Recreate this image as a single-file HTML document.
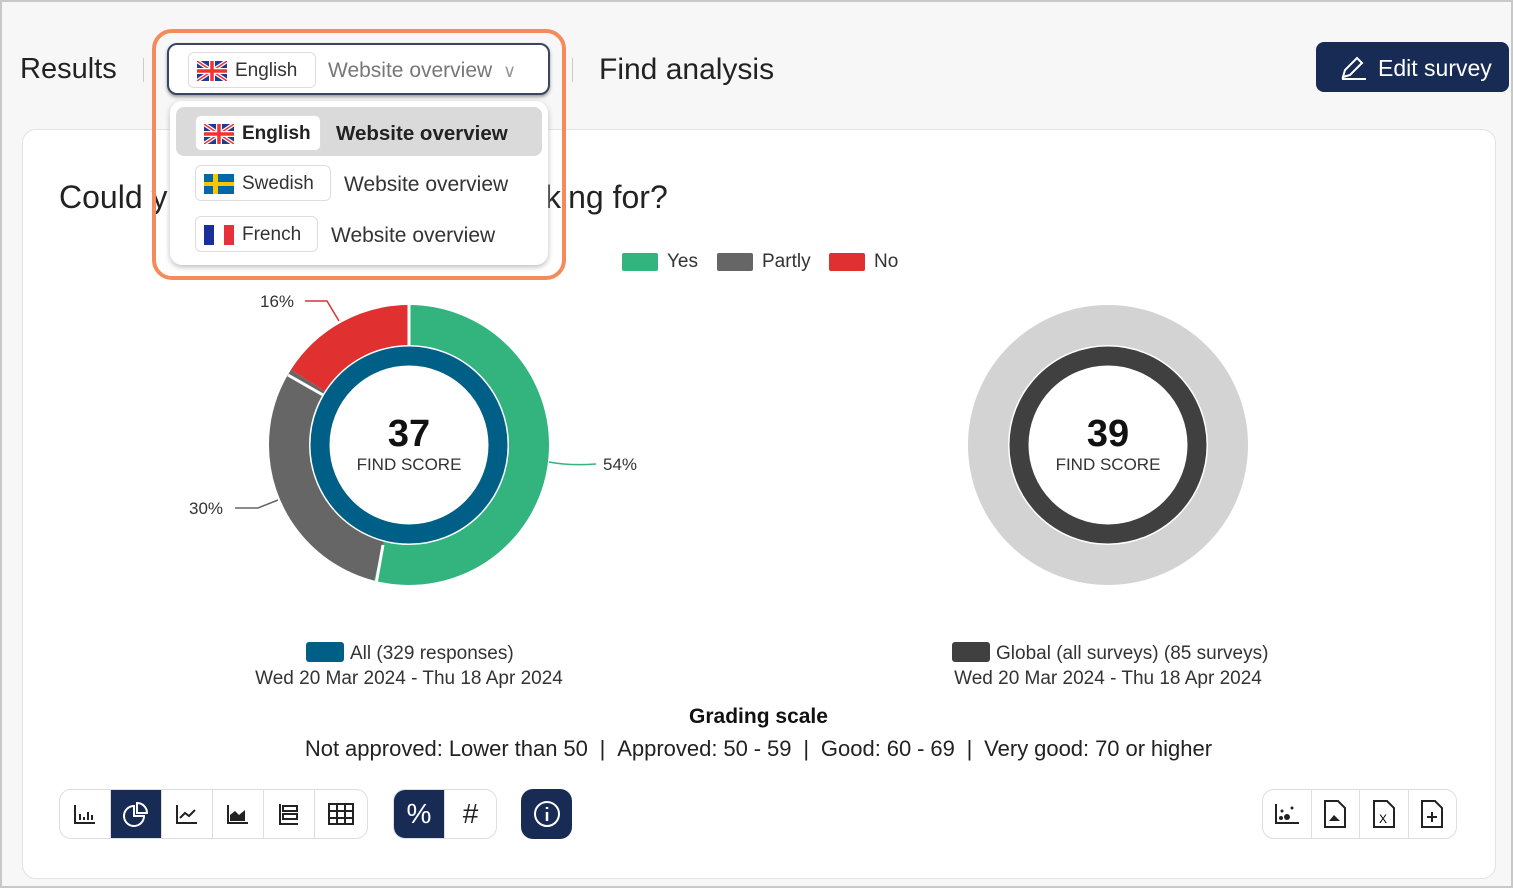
<!DOCTYPE html>
<html><head><meta charset="utf-8"><style>
*{box-sizing:border-box;margin:0;padding:0}
body{width:1513px;height:888px;background:#f7f7f7;font-family:"Liberation Sans",sans-serif;position:relative;overflow:hidden}
.abs{position:absolute}
.card{left:22px;top:129px;width:1474px;height:750px;background:#fff;border:1px solid #e2e2e2;border-radius:14px}
.h{color:#222}
.pill{position:absolute;border:1px solid #ddd;border-radius:6px;background:#fff;height:36px;font-size:19px;color:#333;display:flex;align-items:center;padding-left:8px;gap:8px}
.flag{width:30px;height:20px;display:inline-block}
.btns{position:absolute;border:1px solid #ddd;border-radius:12px;background:#fff;display:flex;height:50px;overflow:hidden}
.btns div{width:51px;border-right:1px solid #ddd;display:flex;align-items:center;justify-content:center;font-size:24px;color:#222}
.btns div:last-child{border-right:none}
.dk{background:#172b54!important;color:#fff!important}
.t{font-size:19px;color:#333;text-align:center}
</style></head><body>
<div class="abs" style="left:0;top:0;width:1513px;height:888px;border:2px solid #c8c8c8"></div>
<div class="abs h" style="left:20px;top:53px;font-size:29px">Results</div>
<div class="abs" style="left:143px;top:58px;width:1px;height:24px;background:#ccc"></div>
<div class="abs" style="left:572px;top:58px;width:1px;height:24px;background:#ccc"></div>
<div class="abs h" style="left:599px;top:53px;font-size:30px">Find analysis</div>
<div class="abs" style="left:1316px;top:42px;width:193px;height:50px;background:#172b54;border-radius:8px;color:#fff;font-size:23px;display:flex;align-items:center;padding-left:62px;padding-top:2px">Edit survey</div>
<svg class="abs" style="left:1340px;top:55px" width="28" height="26"><path d="M3 22 L5 15 L17 3 L22 8 L10 20 Z M2 24 H26" stroke="#fff" stroke-width="2" fill="none"/></svg>
<div class="abs card"></div>
<div class="abs" style="left:59px;top:179px;font-size:32px;color:#222">Could y</div>
<div class="abs" style="left:545px;top:179px;font-size:32px;color:#222">king for?</div>
<div class="abs" style="left:622px;top:253px;width:36px;height:18px;background:#33b47e;border-radius:2px"></div>
<div class="abs" style="left:667px;top:251px;font-size:19px;color:#333">Yes</div>
<div class="abs" style="left:717px;top:253px;width:36px;height:18px;background:#666;border-radius:2px"></div>
<div class="abs" style="left:762px;top:251px;font-size:19px;color:#333">Partly</div>
<div class="abs" style="left:829px;top:253px;width:36px;height:18px;background:#e03030;border-radius:2px"></div>
<div class="abs" style="left:874px;top:251px;font-size:19px;color:#333">No</div>
<svg class="abs" style="left:0;top:0" width="1513" height="888">
<g transform="translate(409,445) rotate(-90)">
<circle r="120" fill="none" stroke="#33b47e" stroke-width="40" stroke-dasharray="407.1 400"/>
<circle r="120" fill="none" stroke="#666" stroke-width="40" stroke-dasharray="0 407.1 226.2 400"/>
<circle r="120" fill="none" stroke="#e03030" stroke-width="40" stroke-dasharray="0 633.3 120.7 100"/>
<circle r="89" fill="none" stroke="#005f87" stroke-width="19"/>
</g>
<g stroke="#fff" stroke-width="3"><line x1="409" y1="305" x2="409" y2="345"/><line x1="376" y1="584" x2="383" y2="545"/><line x1="288" y1="375" x2="323" y2="395"/></g>
<g fill="none" stroke-width="1.5"><path d="M549 462 Q570 466 596 464" stroke="#33b47e"/><path d="M278 500 L258 508 H235" stroke="#666"/><path d="M339 321 L327 301 H305" stroke="#e03030"/></g>
<circle cx="1108" cy="445" r="120" fill="none" stroke="#d3d3d3" stroke-width="40"/>
<circle cx="1108" cy="445" r="89" fill="none" stroke="#404040" stroke-width="19"/>
</svg>
<div class="abs" style="left:260px;top:292px;font-size:17px;color:#333">16%</div>
<div class="abs" style="left:603px;top:455px;font-size:17px;color:#333">54%</div>
<div class="abs" style="left:189px;top:499px;font-size:17px;color:#333">30%</div>
<div class="abs" style="left:329px;top:413px;width:160px;text-align:center;font-size:38px;font-weight:bold;color:#111">37</div>
<div class="abs" style="left:329px;top:455px;width:160px;text-align:center;font-size:17px;color:#333">FIND SCORE</div>
<div class="abs" style="left:1028px;top:413px;width:160px;text-align:center;font-size:38px;font-weight:bold;color:#111">39</div>
<div class="abs" style="left:1028px;top:455px;width:160px;text-align:center;font-size:17px;color:#333">FIND SCORE</div>
<div class="abs" style="left:306px;top:642px;width:38px;height:20px;background:#005f87;border-radius:3px"></div>
<div class="abs t" style="left:350px;top:643px">All (329 responses)</div>
<div class="abs t" style="left:209px;top:668px;width:400px">Wed 20 Mar 2024 - Thu 18 Apr 2024</div>
<div class="abs" style="left:952px;top:642px;width:38px;height:20px;background:#404040;border-radius:3px"></div>
<div class="abs t" style="left:996px;top:643px">Global (all surveys) (85 surveys)</div>
<div class="abs t" style="left:908px;top:668px;width:400px">Wed 20 Mar 2024 - Thu 18 Apr 2024</div>
<div class="abs" style="left:0;top:705px;width:1517px;text-align:center;font-size:21px;font-weight:bold;color:#111">Grading scale</div>
<div class="abs" style="left:0;top:736px;width:1517px;text-align:center;font-size:22px;color:#222;word-spacing:-0.2px">Not approved: Lower than 50 &nbsp;| &nbsp;Approved: 50 - 59 &nbsp;| &nbsp;Good: 60 - 69 &nbsp;| &nbsp;Very good: 70 or higher</div>
<div class="btns" style="left:59px;top:789px;width:309px">
<div><svg width="24" height="22"><path d="M2 2V20H22M7 17V11M11 17V14M15 17V9M19 17V12" stroke="#222" stroke-width="2" fill="none"/></svg></div>
<div class="dk"><svg width="28" height="28"><path d="M12 6A10 10 0 1 0 22 16H12Z" stroke="#fff" stroke-width="2" fill="none"/><path d="M15 3A10 10 0 0 1 25 13H15Z" stroke="#fff" stroke-width="2" fill="none"/></svg></div>
<div><svg width="24" height="22"><path d="M2 2V20H22M5 15L10 10L14 13L20 7" stroke="#222" stroke-width="2" fill="none"/></svg></div>
<div><svg width="24" height="22"><path d="M2 2V20H22" stroke="#222" stroke-width="2" fill="none"/><path d="M4 18V12L9 8L13 12L19 7V18Z" fill="#222"/></svg></div>
<div><svg width="24" height="24"><path d="M3 2V22H21M6 4H20V9H6ZM6 12H20V17H6Z" stroke="#222" stroke-width="2" fill="none"/></svg></div>
<div><svg width="26" height="22"><path d="M1 1H25V21H1ZM1 8H25M1 15H25M9 1V21M17 1V21" stroke="#222" stroke-width="2" fill="none"/></svg></div></div>
<div class="btns" style="left:393px;top:789px;width:104px"><div class="dk" style="font-size:28px">%</div><div style="font-size:28px">#</div></div>
<div class="btns dk" style="left:521px;top:789px;width:51px;border:none"><div class="dk"><svg width="30" height="30"><circle cx="15" cy="15" r="12" stroke="#fff" stroke-width="2" fill="none"/><path d="M15 13V22M15 8V10" stroke="#fff" stroke-width="2.5"/></svg></div></div>
<div class="btns" style="left:1262px;top:789px;width:195px">
<div style="width:49px"><svg width="26" height="24"><path d="M2 2V21H25" stroke="#222" stroke-width="2" fill="none"/><circle cx="7" cy="16" r="2" fill="#222"/><circle cx="13" cy="15" r="3" fill="#222"/><circle cx="8" cy="9" r="1.5" fill="#222"/><circle cx="18" cy="6" r="1.5" fill="#222"/></svg></div>
<div style="width:49px"><svg width="22" height="28"><path d="M1 1H14L21 8V27H1Z" stroke="#222" stroke-width="2" fill="none"/><path d="M5 21L10 15L16 21Z" fill="#222"/></svg></div>
<div style="width:49px"><svg width="22" height="28"><path d="M1 1H14L21 8V27H1Z" stroke="#222" stroke-width="2" fill="none"/><text x="6" y="23" font-size="12" font-family="Liberation Sans">X</text></svg></div>
<div style="width:48px"><svg width="22" height="28"><path d="M1 1H14L21 8V27H1ZM11 12V22M6 17H16" stroke="#222" stroke-width="2" fill="none"/></svg></div></div>
<div class="abs" style="left:152px;top:29px;width:414px;height:251px;border:4px solid #f58b5a;border-radius:20px"></div>
<div class="abs" style="left:167px;top:43px;width:383px;height:52px;border:2px solid #3a4660;border-radius:10px;background:#fff;box-shadow:0 2px 3px #999"></div>
<svg width="0" height="0" style="position:absolute"><defs><symbol id="uk" viewBox="0 0 30 20"><rect width="30" height="20" fill="#233a8f"/><path d="M0 0L30 20M30 0L0 20" stroke="#fff" stroke-width="4"/><path d="M0 0L30 20M30 0L0 20" stroke="#e33" stroke-width="1.5"/><path d="M15 0V20M0 10H30" stroke="#fff" stroke-width="6"/><path d="M15 0V20M0 10H30" stroke="#e33" stroke-width="3.5"/></symbol></defs></svg>
<div class="pill" style="left:188px;top:52px;width:128px;padding-top:2px"><svg class="flag"><use href="#uk"/></svg>English</div>
<div class="abs" style="left:328px;top:59px;font-size:21px;color:#777">Website overview <span style="color:#999;font-size:18px">&nbsp;∨</span></div>
<div class="abs" style="left:170px;top:101px;width:378px;height:164px;background:#fff;border-radius:12px;box-shadow:0 2px 6px #bbb"></div>
<div class="abs" style="left:176px;top:107px;width:366px;height:49px;background:#dadada;border-radius:8px"></div>
<div class="pill" style="left:195px;top:115px;width:126px;font-weight:bold;color:#222;padding-top:2px"><svg class="flag"><use href="#uk"/></svg>English</div>
<div class="abs" style="left:336px;top:122px;font-size:20.5px;font-weight:bold;color:#222">Website overview</div>
<div class="pill" style="left:195px;top:165px;width:136px;padding-top:2px"><span class="flag" style="background:linear-gradient(#0068a8 0 40%,#f7c600 40% 60%,#0068a8 60%)"><span style="display:block;margin-left:9px;width:5px;height:20px;background:#f7c600"></span></span>Swedish</div>
<div class="abs" style="left:344px;top:173px;font-size:21px;color:#333">Website overview</div>
<div class="pill" style="left:195px;top:216px;width:123px;padding-top:2px"><span class="flag" style="background:linear-gradient(90deg,#1a2f9a 33%,#fff 33% 66%,#e8303a 66%)"></span>French</div>
<div class="abs" style="left:331px;top:224px;font-size:21px;color:#333">Website overview</div>
</body></html>
